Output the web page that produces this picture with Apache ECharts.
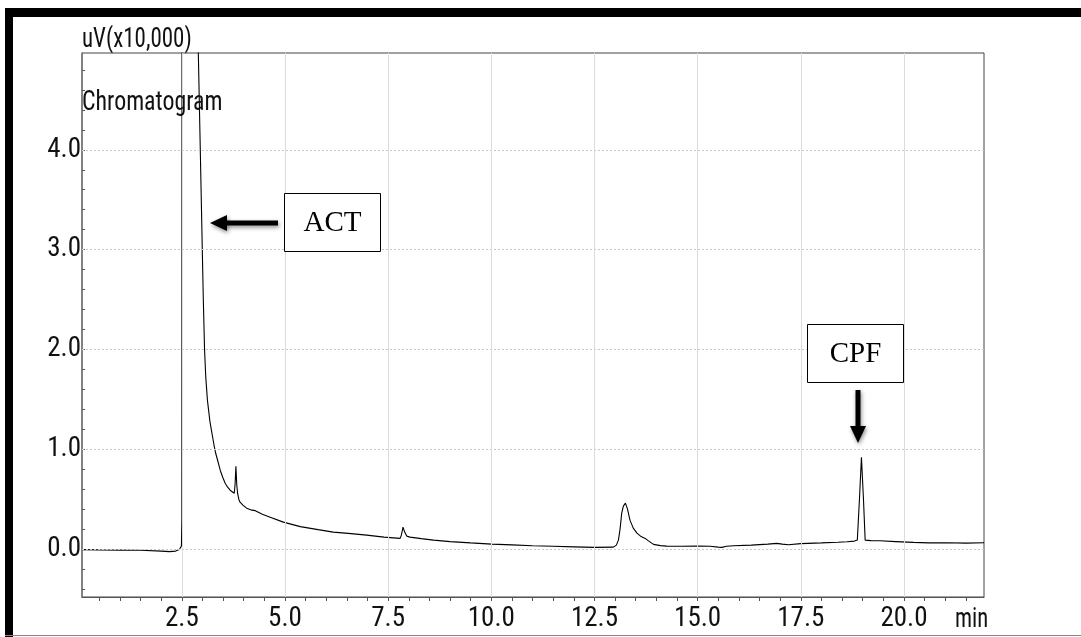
<!DOCTYPE html>
<html lang="en">
<head>
  <meta charset="UTF-8">
  <title>Chromatogram</title>
  <script src="https://cdn.jsdelivr.net/npm/echarts@6/dist/echarts.min.js"></script>
  <style>
    html, body { margin: 0; padding: 0; background: #fff; }
  </style>
</head>
<body>
  <div id="main" style="width: 1081px;height:637px;"></div>

  <script type="text/javascript">
    // retention time (min) and signal (uV x10,000)
    const times = [
      0.08, 0.5, 1.0, 1.5, 2.0, 2.2, 2.35, 2.44, 2.48, 2.49, 2.5, 2.505,
      2.55, 2.65, 2.78, 2.87, 2.9, 2.95, 3.0, 3.02, 3.05, 3.08, 3.12, 3.18,
      3.23, 3.28, 3.32, 3.34, 3.36, 3.43, 3.49, 3.55, 3.61, 3.67, 3.72, 3.77,
      3.79, 3.81, 3.83, 3.85, 3.88, 3.91, 3.98, 4.07, 4.2, 4.28, 4.32, 4.45,
      4.64, 4.96, 5.37, 5.8, 6.17, 6.6, 6.98, 7.4, 7.79, 7.82, 7.86, 7.9,
      7.95, 8.03, 8.3, 8.6, 9.0, 9.5, 10.01, 10.5, 11.0, 11.5, 12.0, 12.5,
      12.96, 13.03, 13.08, 13.12, 13.16, 13.2, 13.25, 13.3, 13.36, 13.44, 13.53, 13.63,
      13.73, 13.8, 13.93, 14.1, 14.25, 14.6, 15.0, 15.3, 15.5, 15.59, 15.7, 15.87,
      16.3, 16.7, 16.92, 17.05, 17.2, 17.5, 18.0, 18.4, 18.62, 18.8, 18.87, 18.92,
      18.97, 19.02, 19.06, 19.1, 19.2, 19.42, 19.8, 20.23, 20.6, 21.04, 21.5, 21.94
    ];
    const signal = [
      -0.005, -0.008, -0.01, -0.012, -0.02, -0.025, -0.02, -0.005, 0.01, 0.03, 0.3, 8,
      20, 30, 15, 6.0, 4.95, 3.93, 2.9, 2.5, 2.0, 1.72, 1.49, 1.28,
      1.16, 1.04, 0.96, 0.94, 0.9, 0.79, 0.72, 0.66, 0.62, 0.59, 0.575, 0.56,
      0.65, 0.83, 0.65, 0.56, 0.5, 0.47, 0.44, 0.41, 0.39, 0.385, 0.375, 0.35,
      0.32, 0.27, 0.225, 0.195, 0.17, 0.155, 0.14, 0.12, 0.107, 0.14, 0.22, 0.17,
      0.13, 0.12, 0.105, 0.09, 0.075, 0.062, 0.05, 0.042, 0.033, 0.028, 0.022, 0.017,
      0.02, 0.04, 0.09, 0.2, 0.36, 0.43, 0.46, 0.4, 0.29, 0.21, 0.16, 0.125,
      0.107, 0.085, 0.047, 0.035, 0.03, 0.028, 0.03, 0.028, 0.02, 0.017, 0.028, 0.033,
      0.04, 0.05, 0.057, 0.05, 0.043, 0.055, 0.062, 0.068, 0.073, 0.08, 0.09, 0.49,
      0.92, 0.49, 0.09, 0.07, 0.085, 0.083, 0.075, 0.067, 0.062, 0.063, 0.06, 0.063
    ];

    // axis ticks and labels
    const xLabels = [2.5, 5.0, 7.5, 10.0, 12.5, 15.0, 17.5, 20.0];
    const xMinor = [];
    for (let i = 1; i <= 43; i++) xMinor.push(i * 0.5);
    const yLabels = [0, 1, 2, 3, 4];
    const yMinor = [];
    for (let i = -2; i <= 24; i++) yMinor.push(i * 0.2);

    const narrow = "'Liberation Sans Narrow', 'Roboto Condensed', 'Noto Sans Condensed', 'DejaVu Sans Condensed', sans-serif";
    const serif = "'Liberation Serif', 'DejaVu Serif', serif";

    let myChart = echarts.init(document.getElementById('main'), null, { renderer: 'canvas' });

    const arrowShadow = {
      shadowBlur: 4,
      shadowColor: 'rgba(0,0,0,0.45)',
      shadowOffsetX: 1,
      shadowOffsetY: 2
    };

    // squeezed text, the original uses a very narrow face
    function squeezed(text, x, y, sx) {
      return {
        type: 'text', x: x, y: y, originX: 0, originY: 0, scaleX: sx, z: 10,
        style: { text: text, font: '27px ' + narrow, fill: '#111', align: 'left', verticalAlign: 'middle' }
      };
    }

    let options = {
      animation: false,
      backgroundColor: '#fff',
      grid: {
        left: 82, top: 53, right: 97, bottom: 40,
        show: true, borderColor: '#444', borderWidth: 1
      },
      xAxis: {
        type: 'value',
        min: 0.08,
        max: 21.94,
        axisLine: { show: true, onZero: false, lineStyle: { color: '#555', width: 1 } },
        axisTick: { show: true, customValues: xMinor, length: 4, lineStyle: { color: '#555' } },
        axisLabel: {
          customValues: xLabels,
          formatter: (v) => v.toFixed(1),
          fontFamily: narrow, fontSize: 27, color: '#111', margin: 9
        },
        splitLine: { show: false }
      },
      yAxis: {
        type: 'value',
        min: -0.48,
        max: 4.97,
        axisLine: { show: true, onZero: false, lineStyle: { color: '#777', width: 1.5 } },
        axisTick: { show: true, customValues: yMinor, inside: true, length: 3, lineStyle: { color: '#555' } },
        axisLabel: {
          customValues: yLabels,
          formatter: (v) => v.toFixed(1),
          fontFamily: narrow, fontSize: 27, color: '#111', margin: 1
        },
        splitLine: { show: false }
      },
      series: [{
        name: 'Chromatogram',
        type: 'line',
        data: times.map((t, i) => [t, signal[i]]),
        showSymbol: false,
        clip: true,
        lineStyle: { color: '#000', width: 1.1 },
        markLine: {
          silent: true,
          symbol: 'none',
          label: { show: false },
          data: [
            ...yLabels.map((v) => ({ yAxis: v, lineStyle: { color: '#c8c8c8', type: [2, 2], width: 1 } })),
            ...xLabels.map((v) => ({ xAxis: v, lineStyle: { color: '#dcdcdc', type: 'solid', width: 1 } }))
          ]
        },
        z: 3
      }],
      graphic: [
        // outer frame
        { type: 'rect', shape: { x: 5, y: 8, width: 1076, height: 9 }, style: { fill: '#000' } },
        { type: 'rect', shape: { x: 5, y: 8, width: 8, height: 629 }, style: { fill: '#000' } },
        { type: 'line', shape: { x1: 5, y1: 635.5, x2: 1081, y2: 635.5 }, style: { stroke: '#888', lineWidth: 1 } },
        // titles
        squeezed('uV(x10,000)', 82, 40, 0.85),
        squeezed('Chromatogram', 82, 103, 0.885),
        squeezed('min', 955, 620, 0.84),
        // ACT annotation
        { type: 'rect', shape: { x: 284.5, y: 193.5, width: 96, height: 58 }, style: { fill: '#fff', stroke: '#000', lineWidth: 1 }, z: 20 },
        { type: 'text', x: 332.5, y: 223, style: { text: 'ACT', font: '29px ' + serif, fill: '#000', align: 'center', verticalAlign: 'middle' }, z: 21 },
        { type: 'rect', shape: { x: 224, y: 220.5, width: 54, height: 5 }, style: Object.assign({ fill: '#000' }, arrowShadow), z: 20 },
        { type: 'polygon', shape: { points: [[210, 223], [227, 215], [227, 231]] }, style: Object.assign({ fill: '#000' }, arrowShadow), z: 20 },
        // CPF annotation
        { type: 'rect', shape: { x: 807.5, y: 324.5, width: 96, height: 58 }, style: { fill: '#fff', stroke: '#000', lineWidth: 1 }, z: 20 },
        { type: 'text', x: 855.5, y: 354, style: { text: 'CPF', font: '29px ' + serif, fill: '#000', align: 'center', verticalAlign: 'middle' }, z: 21 },
        { type: 'rect', shape: { x: 855.5, y: 390, width: 5, height: 38 }, style: Object.assign({ fill: '#000' }, arrowShadow), z: 20 },
        { type: 'polygon', shape: { points: [[858, 443], [850, 426], [866, 426]] }, style: Object.assign({ fill: '#000' }, arrowShadow), z: 20 }
      ]
    };

    myChart.setOption(options);
  </script>
</body>
</html>
